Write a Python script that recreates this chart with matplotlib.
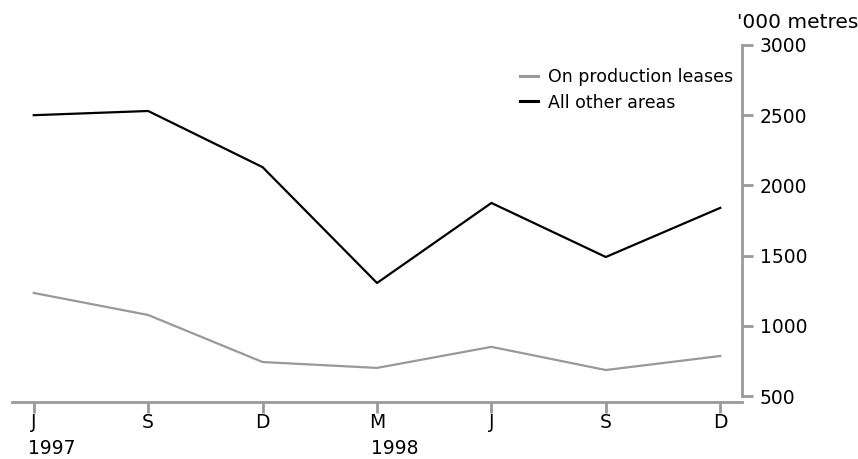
import matplotlib.pyplot as plt

months = ["J", "S", "D", "M", "J", "S", "D"]
years = ["1997", "", "", "1998", "", "", ""]
production_leases = [1234, 1077, 742, 700, 850, 685, 785]
other_areas = [2500, 2530, 2130, 1305, 1875, 1490, 1840]
yticks = [500, 1000, 1500, 2000, 2500, 3000]

W, H = 858, 459
fig = plt.figure(figsize=(W / 100, H / 100), dpi=100)
# axes box in pixels: x 12..742, y 45..396
ax = fig.add_axes([12 / W, 1 - 396 / H, 730 / W, 351 / H])

grey = "#999999"
x = list(range(len(months)))
ax.plot(x, production_leases, color=grey, lw=1.6, label="On production leases")
ax.plot(x, other_areas, color="black", lw=1.6, label="All other areas")

ax.set_xlim(-0.19, 6.19)
ax.set_ylim(500, 3000)

for s in ["left", "top"]:
    ax.spines[s].set_visible(False)
ax.spines["right"].set_color(grey)
ax.spines["right"].set_linewidth(2)
ax.spines["bottom"].set_color(grey)
ax.spines["bottom"].set_linewidth(2)
ax.spines["bottom"].set_position(("outward", 4))

ax.yaxis.tick_right()
ax.set_yticks(yticks)
ax.tick_params(axis="y", direction="out", length=8, width=2, color=grey,
               labelsize=13.5, pad=5)
ax.set_xticks(x)
ax.set_xticklabels(months)
ax.tick_params(axis="x", direction="out", length=8, width=2, color=grey,
               labelsize=13.5, pad=0)

for xi, yr in zip(x, years):
    if yr:
        ax.annotate(yr, xy=(xi, 0), xycoords=("data", "axes fraction"),
                    xytext=(-6, -43), textcoords="offset pixels",
                    ha="left", va="top", fontsize=13.5)

fig.text(858 / W, 1 - 22 / H, "'000 metres", ha="right", va="center", fontsize=14.5)

leg = ax.legend(loc="upper right", bbox_to_anchor=(1.0, 0.96), frameon=False,
                fontsize=12.5, handlelength=1.0, handletextpad=0.6,
                labelspacing=0.45, borderaxespad=0.1)
for line in leg.get_lines():
    line.set_linewidth(2.2)

fig.savefig("out.png", dpi=100)
